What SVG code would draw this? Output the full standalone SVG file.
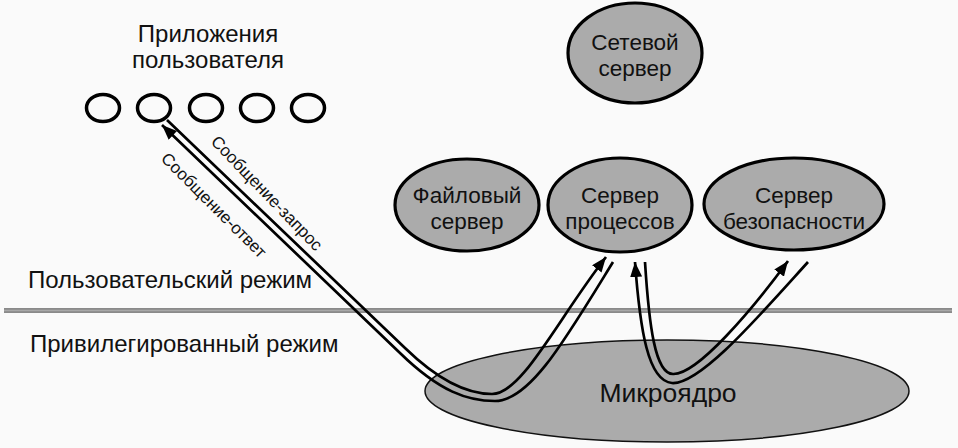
<svg xmlns="http://www.w3.org/2000/svg" width="958" height="448" viewBox="0 0 958 448">
<defs>
<style>
.bg{fill:#fafafa}
.srv{fill:#ababab;stroke:#000;stroke-width:3.2}
.app{fill:#fafafa;stroke:#000;stroke-width:3.5}
.kern{fill:#ababab;stroke:#111;stroke-width:1.5}
.t{font-family:"Liberation Sans",Arial,sans-serif;fill:#111;text-anchor:middle}
.lbl{font-size:22.5px}
.app-lbl{font-size:24px}
.mode{font-family:"Liberation Sans",Arial,sans-serif;fill:#111;font-size:24px}
.msg{font-size:17px}
.wire{fill:none;stroke:#000;stroke-width:2.7}
.arr{marker-end:url(#ah)}
</style>
<marker id="ah" markerUnits="userSpaceOnUse" markerWidth="16" markerHeight="12" refX="15" refY="6" orient="auto">
<path d="M0,0 L15,6 L0,12 z" fill="#000"/>
</marker>
</defs>
<rect class="bg" x="0" y="0" width="958" height="448"/>
<line x1="4" y1="310.5" x2="952" y2="310.5" stroke="#8a8a8a" stroke-width="5"/>
<line x1="4" y1="310.5" x2="952" y2="310.5" stroke="#a8a8a8" stroke-width="1.5"/>
<text class="mode" x="28" y="288">Пользовательский режим</text>
<text class="mode" x="30" y="352">Привилегированный режим</text>
<g id="microkernel">
<ellipse class="kern" cx="667" cy="391" rx="242" ry="51"/>
<text class="t" x="668" y="402" font-size="26.5px">Микроядро</text>
</g>
<g id="user-apps">
<text class="t app-lbl" x="208" y="42">Приложения</text>
<text class="t app-lbl" x="208" y="68">пользователя</text>
<ellipse class="app" cx="103" cy="108" rx="16.5" ry="13.5"/>
<ellipse class="app" cx="154" cy="108" rx="16.5" ry="13.5"/>
<ellipse class="app" cx="206" cy="108" rx="16.5" ry="13.5"/>
<ellipse class="app" cx="257" cy="108" rx="16.5" ry="13.5"/>
<ellipse class="app" cx="308" cy="108" rx="16.5" ry="13.5"/>
</g>
<g id="network-server">
<ellipse class="srv" cx="635" cy="53" rx="67" ry="50"/>
<text class="t lbl" x="635" y="50">Сетевой</text>
<text class="t lbl" x="635" y="76">сервер</text>
</g>
<g id="file-server">
<ellipse class="srv" cx="467" cy="205" rx="72" ry="46"/>
<text class="t lbl" x="467" y="203">Файловый</text>
<text class="t lbl" x="467" y="229">сервер</text>
</g>
<g id="process-server">
<ellipse class="srv" cx="620" cy="205" rx="72" ry="47"/>
<text class="t lbl" x="620" y="203">Сервер</text>
<text class="t lbl" x="620" y="229">процессов</text>
</g>
<g id="security-server">
<ellipse class="srv" cx="794" cy="204" rx="90" ry="46"/>
<text class="t lbl" x="794" y="203">Сервер</text>
<text class="t lbl" x="794" y="229">безопасности</text>
</g>
<g id="connectors">
<path class="wire arr" d="M167 120 L405 348 C440 382 468 394 492 394 C522 394 557 320 606 257"/>
<path class="wire arr" d="M613 262 C565 340 530 401 495 401 C468 401 440 392 400 353 L162 125"/>
<path class="wire arr" d="M808 262 C760 315 700 385 672 383 C648 381 640 330 635 262"/>
<path class="wire arr" d="M645 262 C649 325 655 374 673 374 C697 375 752 310 788 261"/>
<text class="t msg" transform="translate(267,193) rotate(46)" dy="0.35em">Сообщение-запрос</text>
<text class="t msg" transform="translate(214,205) rotate(45)" dy="0.35em">Сообщение-ответ</text>
</g>
</svg>
